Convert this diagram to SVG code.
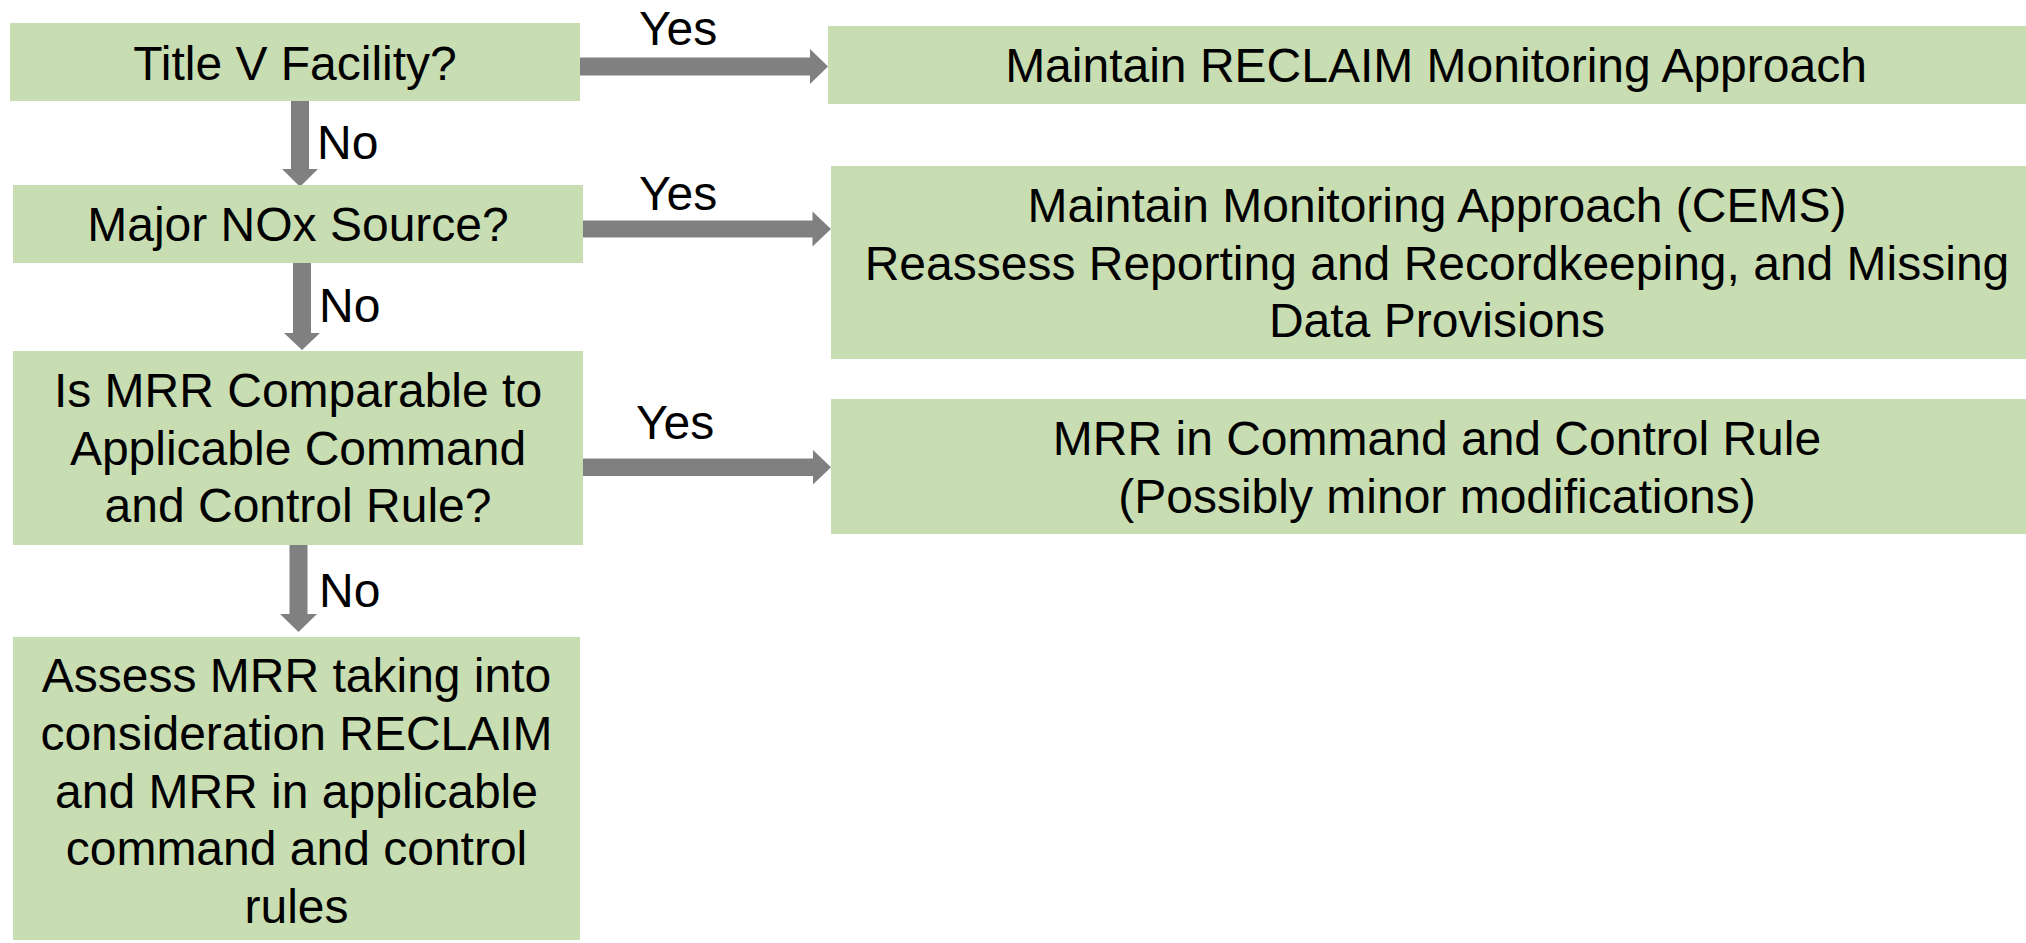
<svg xmlns="http://www.w3.org/2000/svg" width="2026" height="943" viewBox="0 0 2026 943">
  <style>
    .box { fill: #C8DDB1; }
    .arrow { fill: #808080; }
    text { font-family: "Liberation Sans", Arial, sans-serif; font-size: 48px; fill: #000000; }
    .c { text-anchor: middle; }
  </style>
  <rect width="2026" height="943" fill="#FFFFFF"/>
  <g id="connectors">
    <polygon class="arrow" points="580,57.5 810,57.5 810,49 828,66.5 810,84 810,75.5 580,75.5"/>
    <polygon class="arrow" points="583,220.5 812.5,220.5 812.5,211.5 831,229 812.5,246.5 812.5,237.5 583,237.5"/>
    <polygon class="arrow" points="583,458.5 813,458.5 813,450 831,467.3 813,484.5 813,476 583,476"/>
    <polygon class="arrow" points="291,100 309,100 309,169 318,169 300,186.7 282,169 291,169"/>
    <polygon class="arrow" points="293,262 311,262 311,333 320,333 302,350 284,333 293,333"/>
    <polygon class="arrow" points="289.5,544 307.5,544 307.5,614 317,614 298.5,632 280,614 289.5,614"/>
    <text x="639" y="45">Yes</text>
    <text x="639" y="209.5">Yes</text>
    <text x="636" y="439">Yes</text>
    <text x="317" y="158.5">No</text>
    <text x="319" y="322">No</text>
    <text x="319" y="606.5">No</text>
  </g>
  <g id="n-titlev">
    <rect class="box" x="10" y="23" width="570" height="78"/>
    <text class="c" x="295" y="79.5">Title V Facility?</text>
  </g>
  <g id="n-majornox">
    <rect class="box" x="13" y="185" width="570" height="78"/>
    <text class="c" x="298" y="241">Major NOx Source?</text>
  </g>
  <g id="n-ismrr">
    <rect class="box" x="13" y="351" width="570" height="194"/>
    <text class="c" x="298" y="407">Is MRR Comparable to</text>
    <text class="c" x="298" y="464.5">Applicable Command</text>
    <text class="c" x="298" y="522">and Control Rule?</text>
  </g>
  <g id="n-assess">
    <rect class="box" x="13" y="637" width="567" height="303"/>
    <text class="c" x="296.5" y="692.3">Assess MRR taking into</text>
    <text class="c" x="296.5" y="749.9">consideration RECLAIM</text>
    <text class="c" x="296.5" y="807.5">and MRR in applicable</text>
    <text class="c" x="296.5" y="865.1">command and control</text>
    <text class="c" x="296.5" y="922.7">rules</text>
  </g>
  <g id="n-reclaim">
    <rect class="box" x="828" y="26" width="1220" height="78"/>
    <text class="c" x="1436" y="82">Maintain RECLAIM Monitoring Approach</text>
  </g>
  <g id="n-cems">
    <rect class="box" x="831" y="166" width="1220" height="193"/>
    <text class="c" x="1437" y="222">Maintain Monitoring Approach (CEMS)</text>
    <text class="c" x="1437" y="279.5">Reassess Reporting and Recordkeeping, and Missing</text>
    <text class="c" x="1437" y="337">Data Provisions</text>
  </g>
  <g id="n-cac">
    <rect class="box" x="831" y="399" width="1220" height="135"/>
    <text class="c" x="1437" y="455">MRR in Command and Control Rule</text>
    <text class="c" x="1437" y="512.5">(Possibly minor modifications)</text>
  </g>
</svg>
